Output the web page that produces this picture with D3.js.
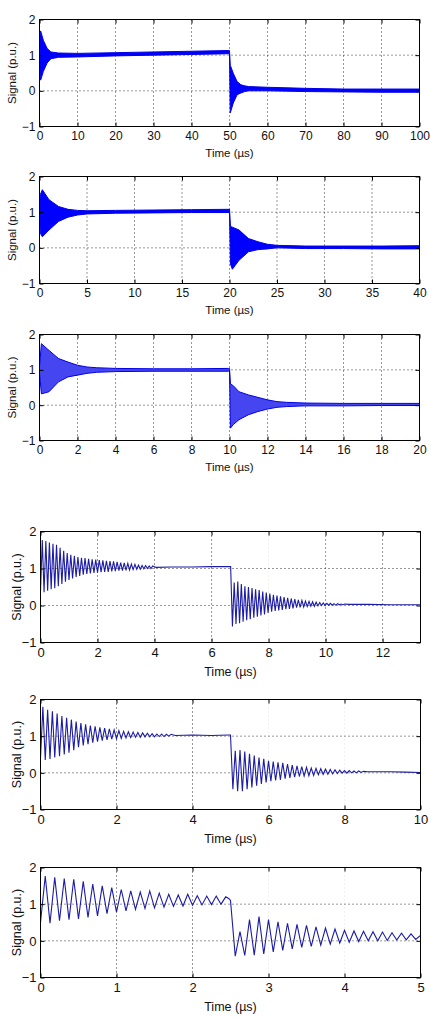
<!DOCTYPE html>
<html>
<head>
<meta charset="utf-8">
<script src="https://cdn.jsdelivr.net/npm/d3@7"></script>
<style>
body { margin: 0; background: #fff; }
text { font-family: "Liberation Sans", Arial, sans-serif; fill: #111; }
</style>
</head>
<body>
<svg id="figure"></svg>
<script>
'use strict';

// axis ticks
let signalTicks = [-1, 0, 1, 2];
let timeTicks100 = [0, 10, 20, 30, 40, 50, 60, 70, 80, 90, 100];
let timeTicks40 = [0, 5, 10, 15, 20, 25, 30, 35, 40];
let timeTicks20 = [0, 2, 4, 6, 8, 10, 12, 14, 16, 18, 20];
let timeTicks13 = [0, 2, 4, 6, 8, 10, 12];
let timeTicks10 = [0, 2, 4, 6, 8, 10];
let timeTicks5 = [0, 1, 2, 3, 4, 5];

let timeEnds = [100, 40, 20, 13.33, 10, 5];
let stepTimes = [50, 20, 10, 6.67, 5, 2.5];

// dense panels: envelope of the ringing (upper / lower edge of the blue band)
let band100Time = [0, 0.3, 1, 2, 3, 5, 10, 20, 30, 40, 49.8, 50, 50.2, 51, 52, 53, 54, 55, 60, 70, 80, 90, 100];
let band100Upper = [1.5, 1.68, 1.42, 1.19, 1.09, 1.06, 1.05, 1.07, 1.09, 1.11, 1.13, 1.13, 0.72, 0.49, 0.26, 0.17, 0.14, 0.12, 0.10, 0.07, 0.05, 0.05, 0.05];
let band100Lower = [0.6, 0.3, 0.54, 0.78, 0.9, 0.94, 0.95, 0.98, 1.0, 1.02, 1.04, 1.04, -0.62, -0.34, -0.11, -0.06, -0.02, 0.0, 0.0, -0.02, -0.03, -0.04, -0.04];

let band40Time = [0, 0.1, 0.3, 1, 2, 3, 4, 5, 8, 12, 16, 19.95, 20, 20.1, 20.3, 21, 22, 23, 24, 25, 28, 32, 36, 40];
let band40Upper = [1.2, 1.5, 1.63, 1.35, 1.16, 1.08, 1.05, 1.04, 1.05, 1.06, 1.07, 1.08, 1.08, 0.6, 0.58, 0.5, 0.26, 0.17, 0.10, 0.07, 0.05, 0.05, 0.05, 0.06];
let band40Lower = [0.8, 0.4, 0.31, 0.5, 0.74, 0.86, 0.92, 0.95, 0.97, 0.98, 0.99, 0.99, 0.99, -0.45, -0.6, -0.35, -0.11, -0.05, -0.03, 0.0, -0.02, -0.02, -0.03, -0.03];

let band20Time = [0, 0.1, 0.5, 1, 1.5, 2, 2.5, 3, 4, 6, 8, 9.95, 10, 10.05, 10.2, 10.5, 11, 11.5, 12, 12.5, 13, 14, 16, 18, 20];
let band20Upper = [1.1, 1.74, 1.55, 1.32, 1.22, 1.13, 1.08, 1.06, 1.04, 1.03, 1.03, 1.04, 1.04, 0.6, 0.55, 0.38, 0.29, 0.22, 0.15, 0.10, 0.08, 0.06, 0.05, 0.05, 0.05];
let band20Lower = [0.9, 0.32, 0.38, 0.66, 0.80, 0.85, 0.90, 0.93, 0.95, 0.96, 0.96, 0.96, 0.96, -0.65, -0.55, -0.41, -0.27, -0.18, -0.11, -0.06, -0.04, -0.02, -0.02, -0.01, -0.01];

// zoomed panels: successive trough / peak values, one every half period of the ringing
let ringHalfPeriod = 0.0625;

let ring13A = [0.38, 1.77, 0.36, 1.74, 0.40, 1.70, 0.44, 1.67,
    0.47, 1.64, 0.52, 1.56, 0.58, 1.48, 0.64, 1.42,
    0.69, 1.37, 0.73, 1.34, 0.77, 1.31, 0.80, 1.29,
    0.83, 1.28, 0.85, 1.26, 0.87, 1.25, 0.88, 1.24,
    0.89, 1.23, 0.90, 1.22, 0.91, 1.21, 0.91, 1.20,
    0.92, 1.19, 0.93, 1.18, 0.94, 1.16, 0.94, 1.15,
    0.95, 1.14, 0.96, 1.12, 0.97, 1.11, 0.98, 1.09,
    0.98, 1.08, 0.99, 1.08, 1.00, 1.07, 1.00, 1.07];
let ring13ATail = [[4.05, 1.03], [4.6, 1.04], [5.3, 1.04], [6.0, 1.05], [6.6, 1.05]];
let ring13B = [1.05, -0.57, 0.62, -0.50, 0.65, -0.48, 0.58, -0.44, 0.52,
    -0.40, 0.50, -0.37, 0.47, -0.33, 0.44, -0.30, 0.42,
    -0.27, 0.38, -0.24, 0.35, -0.20, 0.32, -0.17, 0.29,
    -0.15, 0.27, -0.13, 0.25, -0.12, 0.23, -0.10, 0.21,
    -0.09, 0.19, -0.08, 0.17, -0.06, 0.15, -0.05, 0.14,
    -0.04, 0.12, -0.03, 0.11, -0.02, 0.10, -0.02, 0.09,
    -0.01, 0.08, 0.00, 0.07, 0.00, 0.06, 0.01, 0.06,
    0.01, 0.05, 0.01, 0.05, 0.02, 0.04, 0.02, 0.04];
let ring13BTail = [[10.8, 0.03], [11.5, 0.03], [12.3, 0.02], [13.33, 0.02]];

let ring10A = [0.40, 1.80, 0.35, 1.72, 0.38, 1.68, 0.42, 1.62,
    0.45, 1.55, 0.50, 1.50, 0.55, 1.45, 0.62, 1.40,
    0.70, 1.36, 0.75, 1.32, 0.78, 1.29, 0.82, 1.27,
    0.85, 1.24, 0.88, 1.22, 0.90, 1.20, 0.92, 1.17,
    0.93, 1.15, 0.94, 1.13, 0.95, 1.12, 0.96, 1.11,
    0.97, 1.10, 0.97, 1.09, 0.98, 1.08, 0.98, 1.07,
    0.98, 1.06, 0.99, 1.06, 0.99, 1.05, 1.00, 1.05];
let ring10ATail = [[3.55, 1.02], [4.0, 1.03], [4.5, 1.02], [4.95, 1.03]];
let ring10B = [1.03, -0.45, 0.60, -0.50, 0.62, -0.50, 0.58, -0.45, 0.52,
    -0.40, 0.47, -0.35, 0.42, -0.30, 0.38, -0.26, 0.33,
    -0.23, 0.31, -0.21, 0.29, -0.19, 0.27, -0.16, 0.24,
    -0.14, 0.21, -0.12, 0.19, -0.10, 0.17, -0.09, 0.15,
    -0.08, 0.13, -0.07, 0.12, -0.05, 0.11, -0.04, 0.10,
    -0.04, 0.09, -0.03, 0.08, -0.02, 0.07, -0.01, 0.06,
    -0.01, 0.06, 0.00, 0.05, 0.00, 0.05, 0.01, 0.04];
let ring10BTail = [[8.6, 0.03], [9.2, 0.03], [9.6, 0.02], [10, 0.01]];

let ring5A = [0.50, 1.77, 0.48, 1.73, 0.55, 1.70, 0.58, 1.68,
    0.60, 1.62, 0.64, 1.55, 0.68, 1.50, 0.74, 1.45,
    0.78, 1.40, 0.82, 1.36, 0.86, 1.33, 0.88, 1.36,
    0.90, 1.30, 0.92, 1.27, 0.94, 1.25, 0.95, 1.27,
    0.97, 1.23, 0.98, 1.22, 0.99, 1.22, 1.00, 1.20];
let ring5ATail = [[2.48, 1.15]];
let ring5B = [1.10, -0.42, 0.25, -0.40, 0.58, -0.39, 0.66, -0.36,
    0.58, -0.30, 0.52, -0.26, 0.48, -0.22, 0.45, -0.18,
    0.42, -0.15, 0.38, -0.12, 0.35, -0.09, 0.32, -0.06,
    0.29, -0.04, 0.27, -0.02, 0.26, 0.00, 0.25, 0.00,
    0.24, 0.01, 0.22, 0.02, 0.21, 0.03, 0.19, 0.04, 0.15];
let ring5BTail = [];

function bandData(times, upper, lower) {
    return times.map((t, i) => ({ t: t, hi: upper[i], lo: lower[i] }));
}

function ringData(stepTime, ringA, tailA, ringB, tailB) {
    let pts = [];
    ringA.forEach((v, i) => pts.push({ t: i * ringHalfPeriod, v: v }));
    tailA.forEach(d => pts.push({ t: d[0], v: d[1] }));
    ringB.forEach((v, i) => pts.push({ t: stepTime + i * ringHalfPeriod, v: v }));
    tailB.forEach(d => pts.push({ t: d[0], v: d[1] }));
    return pts;
}

function getPanels() {
    let upper = { left: 39.5, right: 419.5, tick: 12, label: 11.5, yLabelX: 12, xLabelDy: 30 };
    let lower = { left: 40.5, right: 420.5, tick: 13, label: 12.5, yLabelX: 17, xLabelDy: 33 };
    return [
        { ...upper, top: 19.5, bottom: 126.5, ticks: timeTicks100, end: timeEnds[0], faded: [],
          band: bandData(band100Time, band100Upper, band100Lower), fill: "#0000ff" },
        { ...upper, top: 176.5, bottom: 283.5, ticks: timeTicks40, end: timeEnds[1], faded: [],
          band: bandData(band40Time, band40Upper, band40Lower), fill: "#0000ff" },
        { ...upper, top: 334.5, bottom: 440.5, ticks: timeTicks20, end: timeEnds[2], faded: [],
          band: bandData(band20Time, band20Upper, band20Lower), fill: "#4646f0" },
        { ...lower, top: 531.5, bottom: 642.5, ticks: timeTicks13, end: timeEnds[3], faded: [8],
          line: ringData(stepTimes[3], ring13A, ring13ATail, ring13B, ring13BTail) },
        { ...lower, top: 699.5, bottom: 809.5, ticks: timeTicks10, end: timeEnds[4], faded: [6, 8],
          line: ringData(stepTimes[4], ring10A, ring10ATail, ring10B, ring10BTail) },
        { ...lower, top: 867.5, bottom: 977.5, ticks: timeTicks5, end: timeEnds[5], faded: [3, 4],
          line: ringData(stepTimes[5], ring5A, ring5ATail, ring5B, ring5BTail) }
    ];
}

function drawPanel(svg, p, idx) {
    let x = d3.scaleLinear().domain([0, p.end]).range([p.left, p.right]);
    let y = d3.scaleLinear().domain([-1, 2]).range([p.bottom, p.top]);
    let g = svg.append("g").attr("class", "panel");

    // dotted grid
    p.ticks.filter(t => t > 0 && t < p.end).forEach(t => {
        g.append("line")
            .attr("x1", x(t)).attr("x2", x(t))
            .attr("y1", p.top).attr("y2", p.bottom)
            .style("stroke", p.faded.includes(t) ? "#e4e4e4" : "#333")
            .style("stroke-dasharray", "1,3");
    });
    signalTicks.filter(v => v > -1 && v < 2).forEach(v => {
        g.append("line")
            .attr("x1", p.left).attr("x2", p.right)
            .attr("y1", y(v)).attr("y2", y(v))
            .style("stroke", "#333")
            .style("stroke-dasharray", "1,3");
    });

    let clipId = "clip" + idx;
    g.append("clipPath").attr("id", clipId)
        .append("rect")
        .attr("x", p.left).attr("y", p.top)
        .attr("width", p.right - p.left).attr("height", p.bottom - p.top);

    if (p.band) {
        let area = d3.area()
            .x(d => x(d.t))
            .y0(d => y(d.lo))
            .y1(d => y(d.hi));
        g.append("path")
            .datum(p.band)
            .attr("clip-path", "url(#" + clipId + ")")
            .attr("d", area)
            .attr("fill", p.fill)
            .attr("stroke", "#0000e8")
            .attr("stroke-width", 1);
    } else {
        let line = d3.line()
            .x(d => x(d.t))
            .y(d => y(d.v));
        g.append("path")
            .datum(p.line)
            .attr("clip-path", "url(#" + clipId + ")")
            .attr("d", line)
            .attr("fill", "none")
            .attr("stroke", "#1c1ca6")
            .attr("stroke-width", 1.1);
    }

    // box
    g.append("rect")
        .attr("x", p.left).attr("y", p.top)
        .attr("width", p.right - p.left).attr("height", p.bottom - p.top)
        .attr("fill", "none").attr("stroke", "#000").attr("stroke-width", 1);

    // inward ticks on all four sides
    let bottomAxis = g.append("g")
        .attr("transform", "translate(0," + p.bottom + ")")
        .call(d3.axisBottom(x).tickValues(p.ticks).tickSize(-4).tickPadding(5).tickFormat(d3.format("d")));
    g.append("g")
        .attr("transform", "translate(0," + p.top + ")")
        .call(d3.axisTop(x).tickValues(p.ticks).tickSize(-4).tickFormat(""));
    let leftAxis = g.append("g")
        .attr("transform", "translate(" + p.left + ",0)")
        .call(d3.axisLeft(y).tickValues(signalTicks).tickSize(-4).tickPadding(4).tickFormat(d3.format("d")));
    g.append("g")
        .attr("transform", "translate(" + p.right + ",0)")
        .call(d3.axisRight(y).tickValues(signalTicks).tickSize(-4).tickFormat(""));

    g.selectAll(".domain").remove();
    g.selectAll(".tick line").attr("stroke", "#000");
    [bottomAxis, leftAxis].forEach(a => a.selectAll("text")
        .style("font-size", p.tick + "px")
        .style("font-family", "'Liberation Sans', Arial, sans-serif")
        .attr("fill", "#111"));

    // axis titles
    g.append("text")
        .attr("x", (p.left + p.right) / 2)
        .attr("y", p.bottom + p.xLabelDy)
        .style("text-anchor", "middle")
        .style("font-size", p.label + "px")
        .text("Time (µs)");

    g.append("text")
        .attr("transform", "translate(" + p.yLabelX + "," + ((p.top + p.bottom) / 2) + ") rotate(-90)")
        .attr("dy", "0.35em")
        .style("text-anchor", "middle")
        .style("font-size", p.label + "px")
        .text("Signal (p.u.)");
}

function drawChart() {
    let svg = d3.select("#figure")
        .attr("width", 431)
        .attr("height", 1018);
    getPanels().forEach((p, i) => drawPanel(svg, p, i));
}

drawChart();
</script>
</body>
</html>
